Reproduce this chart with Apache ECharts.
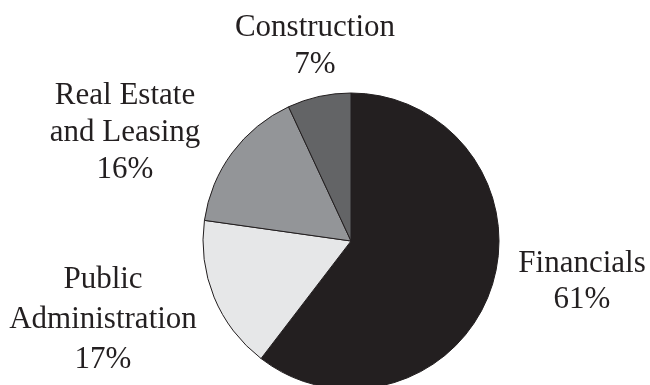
<!DOCTYPE html>
<html>
<head>
<meta charset="utf-8">
<script src="https://cdn.jsdelivr.net/npm/echarts@6/dist/echarts.min.js"></script>
<style>
html,body{margin:0;padding:0;background:#fff;}
#c{width:650px;height:385px;}
</style>
</head>
<body>
<div id="c"></div>
<script>
const categories = ['Financials', 'Public\nAdministration', 'Real Estate\nand Leasing', 'Construction'];
const values = [61, 17, 16, 7];
const colors = ['#231f20', '#e6e7e8', '#939598', '#636466'];
// label block centers (styling)
const labelPos = [[582, 282], [103, 320], [125, 133], [315, 46]];
const labelLH = [36, 40, 37, 37];

const chart = echarts.init(document.getElementById('c'), null, {renderer: 'canvas'});
chart.setOption({
  animation: false,
  backgroundColor: '#ffffff',
  series: [{
    type: 'pie',
    center: [351, 241],
    radius: [0, 148],
    startAngle: 90,
    clockwise: true,
    avoidLabelOverlap: false,
    data: categories.map((n, i) => ({
      name: n,
      value: values[i],
      itemStyle: {color: colors[i]},
      label: {lineHeight: labelLH[i]}
    })),
    itemStyle: {borderColor: '#231f20', borderWidth: 1},
    emphasis: {disabled: true},
    label: {
      show: true,
      position: 'outside',
      formatter: '{b}\n{c}%',
      fontFamily: 'Liberation Serif',
      fontSize: 31,
      color: '#231f20',
      align: 'center'
    },
    labelLine: {show: false},
    labelLayout: function (p) {
      const pos = labelPos[p.dataIndex];
      return {x: pos[0], y: pos[1], align: 'center', verticalAlign: 'middle'};
    }
  }]
});
</script>
</body>
</html>
